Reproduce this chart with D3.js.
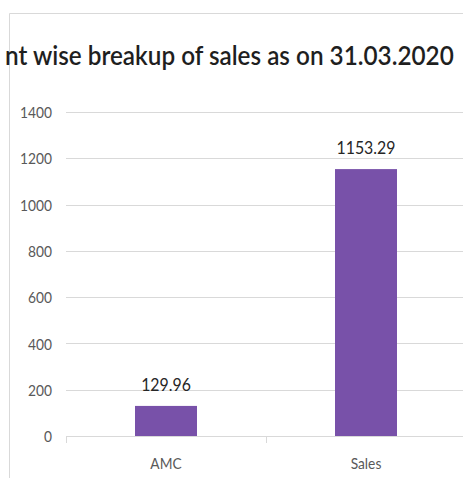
<!DOCTYPE html>
<html>
<head>
<meta charset="utf-8">
<script src="https://cdn.jsdelivr.net/npm/d3@7"></script>
<style>
  html, body { margin: 0; padding: 0; background: #fff; }
  svg { display: block; }
</style>
</head>
<body>
<svg id="chart" width="463" height="478"></svg>
<script>
// Segment-wise breakup of sales
const categories = ["AMC", "Sales"];
const values = [129.96, 1153.29];
const tickValues = [0, 200, 400, 600, 800, 1000, 1200, 1400];
const titleText = "nt wise breakup of sales as on 31.03.2020";

const svg = d3.select("#chart");
const W = 463, H = 478;
const FONT = "Lato, 'Open Sans', sans-serif";

// narrow a text run horizontally, Calibri-like
function condense(sel, k) {
  sel.each(function () {
    const len = this.getComputedTextLength();
    d3.select(this).attr("textLength", len * k).attr("lengthAdjust", "spacingAndGlyphs");
  });
}

// chart frame
svg.append("path")
  .attr("d", `M9.5,${H} V13.5 H${W}`)
  .attr("fill", "none")
  .attr("stroke", "#d9d9d9")
  .attr("stroke-width", 1);

// title: sized to its width, then stretched vertically to a 27px cap height
const titleWidth = 449, titleSize = 27;
const title = svg.append("text")
  .attr("font-family", FONT)
  .attr("font-size", titleSize)
  .attr("font-weight", 600)
  .attr("fill", "#1f1f1f")
  .text(titleText);
const natural = title.node().getComputedTextLength();
const fitSize = titleSize * titleWidth / natural;
title
  .attr("font-size", fitSize)
  .attr("transform", `translate(5,65) scale(1,${titleSize / fitSize})`);

const x = d3.scaleBand().domain(categories).range([66, 466]).paddingInner(0).paddingOuter(0);
const y = d3.scaleLinear().domain([0, 1400]).range([436, 112]);

// gridlines
svg.append("g")
  .selectAll("line")
  .data(tickValues)
  .join("line")
  .attr("x1", 66)
  .attr("x2", W)
  .attr("y1", d => Math.round(y(d)) + 0.5)
  .attr("y2", d => Math.round(y(d)) + 0.5)
  .attr("stroke", "#d9d9d9")
  .attr("stroke-width", 1);

// y axis labels
const yAxis = svg.append("g")
  .attr("transform", "translate(52,0)")
  .call(d3.axisLeft(y).tickValues(tickValues).tickSize(0).tickPadding(0).tickFormat(d3.format("d")));
yAxis.select(".domain").remove();
yAxis.selectAll("text")
  .attr("font-family", FONT)
  .attr("font-size", 16)
  .attr("fill", "#595959")
  .attr("dy", "0.35em")
  .call(condense, 0.86);

// x axis tick marks at the category boundaries
const ticksX = [66, 266];
svg.append("g")
  .selectAll("line")
  .data(ticksX)
  .join("line")
  .attr("x1", d => d + 0.5)
  .attr("x2", d => d + 0.5)
  .attr("y1", 436)
  .attr("y2", 443)
  .attr("stroke", "#d9d9d9");

// category labels
svg.append("g")
  .selectAll("text")
  .data(categories)
  .join("text")
  .attr("x", d => x(d) + x.bandwidth() / 2)
  .attr("y", 469)
  .attr("text-anchor", "middle")
  .attr("font-family", FONT)
  .attr("font-size", 16)
  .attr("fill", "#595959")
  .text(d => d)
  .call(condense, 0.86);

// bars
const barW = 62;
svg.append("g")
  .selectAll("rect")
  .data(values)
  .join("rect")
  .attr("x", (d, i) => x(categories[i]) + x.bandwidth() / 2 - barW / 2)
  .attr("y", d => y(d))
  .attr("width", barW)
  .attr("height", d => y(0) - y(d))
  .attr("fill", "#7851a9");

// value labels
svg.append("g")
  .selectAll("text")
  .data(values)
  .join("text")
  .attr("x", (d, i) => x(categories[i]) + x.bandwidth() / 2)
  .attr("y", d => y(d) - 15)
  .attr("text-anchor", "middle")
  .attr("font-family", FONT)
  .attr("font-size", 18)
  .attr("fill", "#262626")
  .text(d => d.toFixed(2))
  .call(condense, 0.88);
</script>
</body>
</html>
